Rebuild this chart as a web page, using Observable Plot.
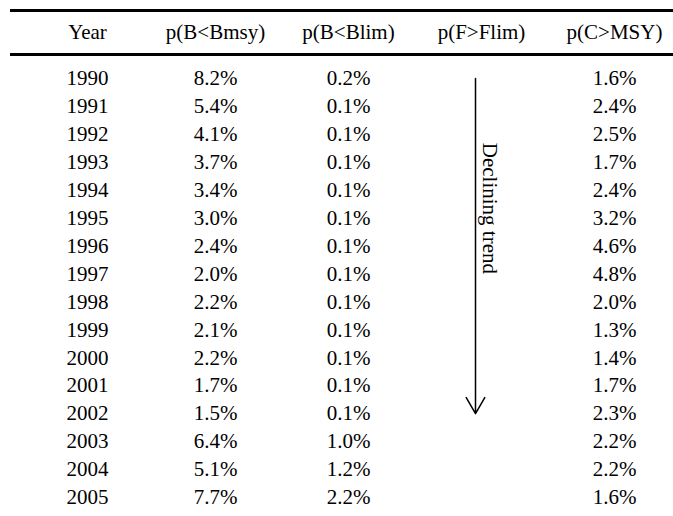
<!DOCTYPE html>
<html><head><meta charset="utf-8">
<script src="https://cdn.jsdelivr.net/npm/d3@7"></script>
<script src="https://cdn.jsdelivr.net/npm/@observablehq/plot@0.6"></script>
<style>html,body{margin:0;padding:0;background:#fff}</style>
</head><body><div id="chart"></div>
<script>
// ---- data ----
const columns = ["Year", "p(B<Bmsy)", "p(B<Blim)", "p(F>Flim)", "p(C>MSY)"];
const years = [1990, 1991, 1992, 1993, 1994, 1995, 1996, 1997, 1998, 1999, 2000, 2001, 2002, 2003, 2004, 2005];
const pBmsy = [8.2, 5.4, 4.1, 3.7, 3.4, 3.0, 2.4, 2.0, 2.2, 2.1, 2.2, 1.7, 1.5, 6.4, 5.1, 7.7];
const pBlim = [0.2, 0.1, 0.1, 0.1, 0.1, 0.1, 0.1, 0.1, 0.1, 0.1, 0.1, 0.1, 0.1, 1.0, 1.2, 2.2];
const pCmsy = [1.6, 2.4, 2.5, 1.7, 2.4, 3.2, 4.6, 4.8, 2.0, 1.3, 1.4, 1.7, 2.3, 2.2, 2.2, 1.6];
const trendLabel = "Declining trend";
const trendColumn = "p(F>Flim)";
const trendFrom = 1990;
const trendTo = 2002;

// ---- build cells ----
const fmt = v => v.toFixed(1) + "%";
const yearCells = years.map(yr => ({col: columns[0], year: yr, label: String(yr)}));
const cells = [];
years.forEach((yr, i) => {
  cells.push({col: columns[1], year: yr, label: fmt(pBmsy[i])});
  cells.push({col: columns[2], year: yr, label: fmt(pBlim[i])});
  cells.push({col: columns[4], year: yr, label: fmt(pCmsy[i])});
});
const headerRow = years[0] - 1.65;
const topRule = years[0] - 2.435;
const headRule = years[0] - 0.86;
const font = "'Liberation Serif', 'Times New Roman', Times, serif";
const fs = 21;

const chart = Plot.plot({
  width: 673,
  height: 516,
  marginLeft: 10, marginRight: 0, marginTop: 0, marginBottom: 0,
  style: {fontFamily: font, fontSize: fs + "px", background: "#fff", color: "#000"},
  x: {type: "point", domain: columns, range: [82, 614], padding: 0, axis: null},
  y: {type: "linear", domain: [years[0] - 78 / 27.93, years[0] + 438 / 27.93], range: [0, 516], axis: null},
  marks: [
    Plot.ruleY([topRule, headRule], {stroke: "#000", strokeWidth: 3}),
    // year column (slightly right of its grid slot)
    Plot.text([columns[0]], {x: d => d, y: () => headerRow, text: d => d, dx: 5, fontSize: fs, fill: "#000"}),
    Plot.text(yearCells, {x: "col", y: "year", text: "label", dx: 5, fontSize: fs, fill: "#000"}),
    // other headers and cells
    Plot.text(columns.slice(1), {x: d => d, y: () => headerRow, text: d => d, fontSize: fs, fill: "#000"}),
    Plot.text(cells, {x: "col", y: "year", text: "label", fontSize: fs, fill: "#000"}),
    Plot.arrow([{col: trendColumn, from: trendFrom, to: trendTo}], {
      x1: "col", x2: "col", y1: "from", y2: "to", dx: -6,
      stroke: "#000", strokeWidth: 1.5, headLength: 18.5, headAngle: 60
    }),
    Plot.text([{col: trendColumn, label: trendLabel}], {
      x: "col", y: () => years[0] + 2.3, text: "label", rotate: 90,
      textAnchor: "start", dx: 8, fontSize: fs, fill: "#000"
    })
  ]
});
document.getElementById("chart").appendChild(chart);
</script>
</body></html>
